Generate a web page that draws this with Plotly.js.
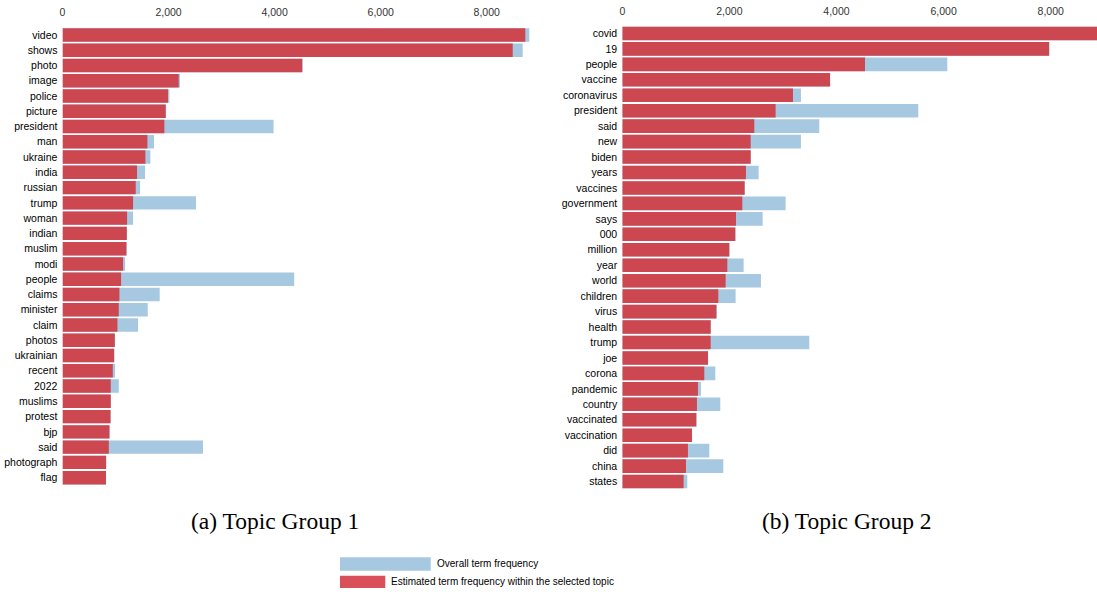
<!DOCTYPE html>
<html>
<head>
<meta charset="utf-8">
<script src="https://cdn.plot.ly/plotly-3.0.1.min.js"></script>
<style>html,body{margin:0;padding:0;background:#fff;}#chart{width:1097px;height:592px;}</style>
</head>
<body>
<div id="chart"></div>
<script>
// ---- Topic Group 1 ----
const terms1 = ["video","shows","photo","image","police","picture","president","man","ukraine","india","russian","trump","woman","indian","muslim","modi","people","claims","minister","claim","photos","ukrainian","recent","2022","muslims","protest","bjp","said","photograph","flag"];
const overall1 = [8803,8678,4530,2216,2015,1955,3980,1726,1657,1557,1463,2517,1331,1215,1210,1180,4369,1833,1607,1425,990,978,992,1061,912,908,888,2649,825,822];
const topic1 = [8727,8490,4520,2191,1990,1946,1921,1601,1563,1406,1381,1331,1218,1212,1205,1142,1105,1073,1061,1036,986,973,948,910,910,905,885,873,822,820];

// ---- Topic Group 2 ----
const terms2 = ["covid","19","people","vaccine","coronavirus","president","said","new","biden","years","vaccines","government","says","000","million","year","world","children","virus","health","trump","joe","corona","pandemic","country","vaccinated","vaccination","did","china","states"];
const overall2 = [9600,7975,6069,3885,3336,5527,3679,3336,2400,2546,2287,3050,2621,2113,2000,2266,2589,2116,1768,1653,3492,1603,1737,1469,1830,1385,1304,1625,1886,1214];
const topic2 = [9550,7970,4532,3878,3187,2863,2465,2397,2397,2309,2284,2241,2123,2110,1998,1961,1930,1793,1755,1650,1650,1600,1531,1413,1394,1382,1301,1226,1189,1145];

const tickValues = [0,2000,4000,6000,8000];
const tickLabels = ['0','2,000','4,000','6,000','8,000'];
const captions = ["(a) Topic Group 1", "(b) Topic Group 2"];
const legendLabels = ["Overall term frequency", "Estimated term frequency within the selected topic"];

const BLUE = '#A6C9E1';
const RED = '#CD4750';
const W = 1097, H = 592;
const px = v => v / W;
const py = v => 1 - v / H;

function barTrace(x, y, color, xa, ya) {
  return {type:'bar', orientation:'h', x:x, y:y, xaxis:xa, yaxis:ya,
    marker:{color:color, line:{width:0}}, hoverinfo:'x+y', showlegend:false};
}

const data = [
  barTrace(overall1, terms1, BLUE, 'x', 'y'),
  barTrace(topic1, terms1, RED, 'x', 'y'),
  barTrace(overall2, terms2, BLUE, 'x2', 'y2'),
  barTrace(topic2, terms2, RED, 'x2', 'y2')
];

const tickFont = {family:'"Liberation Sans", Arial, sans-serif', size:10.5, color:'#000'};

function xAxis(dom, maxv, anchor) {
  return {domain:dom, range:[0, maxv], side:'top', anchor:anchor, type:'linear',
    showgrid:false, zeroline:false, showline:false,
    tickmode:'array', tickvals:tickValues, ticktext:tickLabels,
    ticks:'outside', ticklen:6, tickcolor:'rgba(0,0,0,0)',
    tickfont:{family:tickFont.family, size:10.5, color:'#333'}, automargin:false, fixedrange:true};
}
function yAxis(dom, cats, anchor) {
  return {domain:dom, type:'category', categoryorder:'array', categoryarray:cats,
    autorange:'reversed', anchor:anchor,
    showgrid:false, zeroline:false, showline:false, ticks:'outside', ticklen:2, tickcolor:'rgba(0,0,0,0)',
    tickfont:tickFont, automargin:false, fixedrange:true};
}

const layout = {
  width:W, height:H,
  margin:{l:0, r:0, t:0, b:0},
  paper_bgcolor:'#fff', plot_bgcolor:'#fff',
  barmode:'overlay', bargap:0.12,
  showlegend:false,
  xaxis: xAxis([px(62.5), px(540)], (540-62.5)/53.03*1000, 'y'),
  yaxis: yAxis([py(485.3), py(27.3)], terms1, 'x'),
  xaxis2: xAxis([px(622.3), 1], (1097-622.3)/53.55*1000, 'y2'),
  yaxis2: yAxis([py(489.3), py(25.7)], terms2, 'x2'),
  shapes:[
    {type:'rect', xref:'paper', yref:'paper', x0:px(340), x1:px(430.7), y0:py(570.7), y1:py(557.3), fillcolor:BLUE, line:{width:0}},
    {type:'rect', xref:'paper', yref:'paper', x0:px(340), x1:px(385.3), y0:py(588), y1:py(575.7), fillcolor:'#D9505A', line:{width:0}}
  ],
  annotations:[
    {xref:'paper', yref:'paper', x:px(275), y:py(521), text:captions[0], showarrow:false, xanchor:'center', yanchor:'middle',
      font:{family:'"Liberation Serif", "Times New Roman", serif', size:23.5, color:'#000'}},
    {xref:'paper', yref:'paper', x:px(847), y:py(521), text:captions[1], showarrow:false, xanchor:'center', yanchor:'middle',
      font:{family:'"Liberation Serif", "Times New Roman", serif', size:23.5, color:'#000'}},
    {xref:'paper', yref:'paper', x:px(435), y:py(563), text:legendLabels[0], showarrow:false, xanchor:'left', yanchor:'middle',
      font:{family:'"Liberation Sans", Arial, sans-serif', size:10, color:'#000'}},
    {xref:'paper', yref:'paper', x:px(389), y:py(581.5), text:legendLabels[1], showarrow:false, xanchor:'left', yanchor:'middle',
      font:{family:'"Liberation Sans", Arial, sans-serif', size:10, color:'#000'}}
  ]
};

Plotly.newPlot('chart', data, layout, {displayModeBar:false, staticPlot:true});
</script>
</body>
</html>
